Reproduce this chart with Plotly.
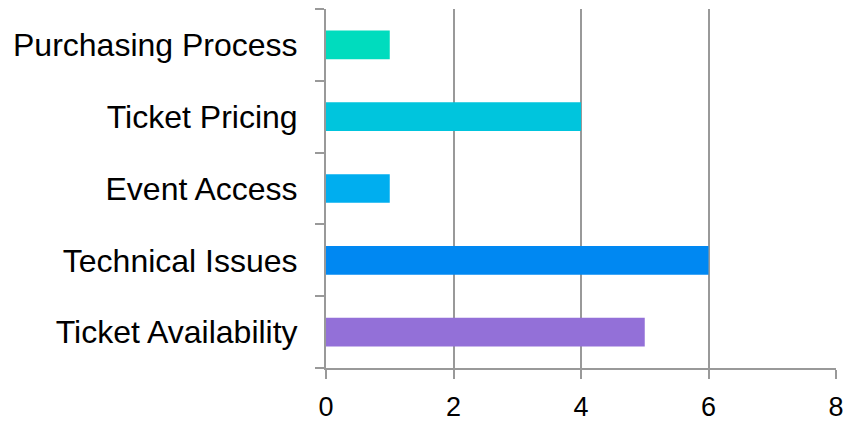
import plotly.graph_objects as go

categories = ["Ticket Availability", "Technical Issues", "Event Access", "Ticket Pricing", "Purchasing Process"]
values = [5, 6, 1, 4, 1]
colors = ["#9370D8", "#0088F2", "#00AEEF", "#00C5DD", "#00DCBE"]
x_ticks = [0, 2, 4, 6, 8]

fig = go.Figure(go.Bar(
    x=values, y=categories, orientation="h",
    marker=dict(color=colors, line=dict(width=0)),
    width=0.4,
))

axis_gray = "#999999"
fig.update_layout(
    width=849, height=422,
    margin=dict(l=326, r=13, t=9, b=54, autoexpand=False),
    paper_bgcolor="white", plot_bgcolor="white",
    font=dict(family="Liberation Sans, Arial, sans-serif", size=28, color="black"),
    showlegend=False,
)
fig.update_xaxes(
    range=[0, 8], tickvals=x_ticks, ticktext=[str(t) for t in x_ticks],
    showgrid=True, gridcolor=axis_gray, gridwidth=2,
    showline=True, linecolor=axis_gray, linewidth=2,
    ticks="outside", ticklen=9, tickwidth=2, tickcolor=axis_gray,
    zeroline=False, tickfont=dict(size=27), automargin=False,
    ticklabelstandoff=5,
)
fig.update_yaxes(
    categoryorder="array", categoryarray=categories,
    showgrid=False, showline=True, linecolor=axis_gray, linewidth=2,
    ticks="outside", tickson="boundaries", ticklen=9, tickwidth=2, tickcolor=axis_gray,
    zeroline=False, tickfont=dict(size=32), automargin=False,
    ticklabelstandoff=20,
)

fig.write_html("out.html")
